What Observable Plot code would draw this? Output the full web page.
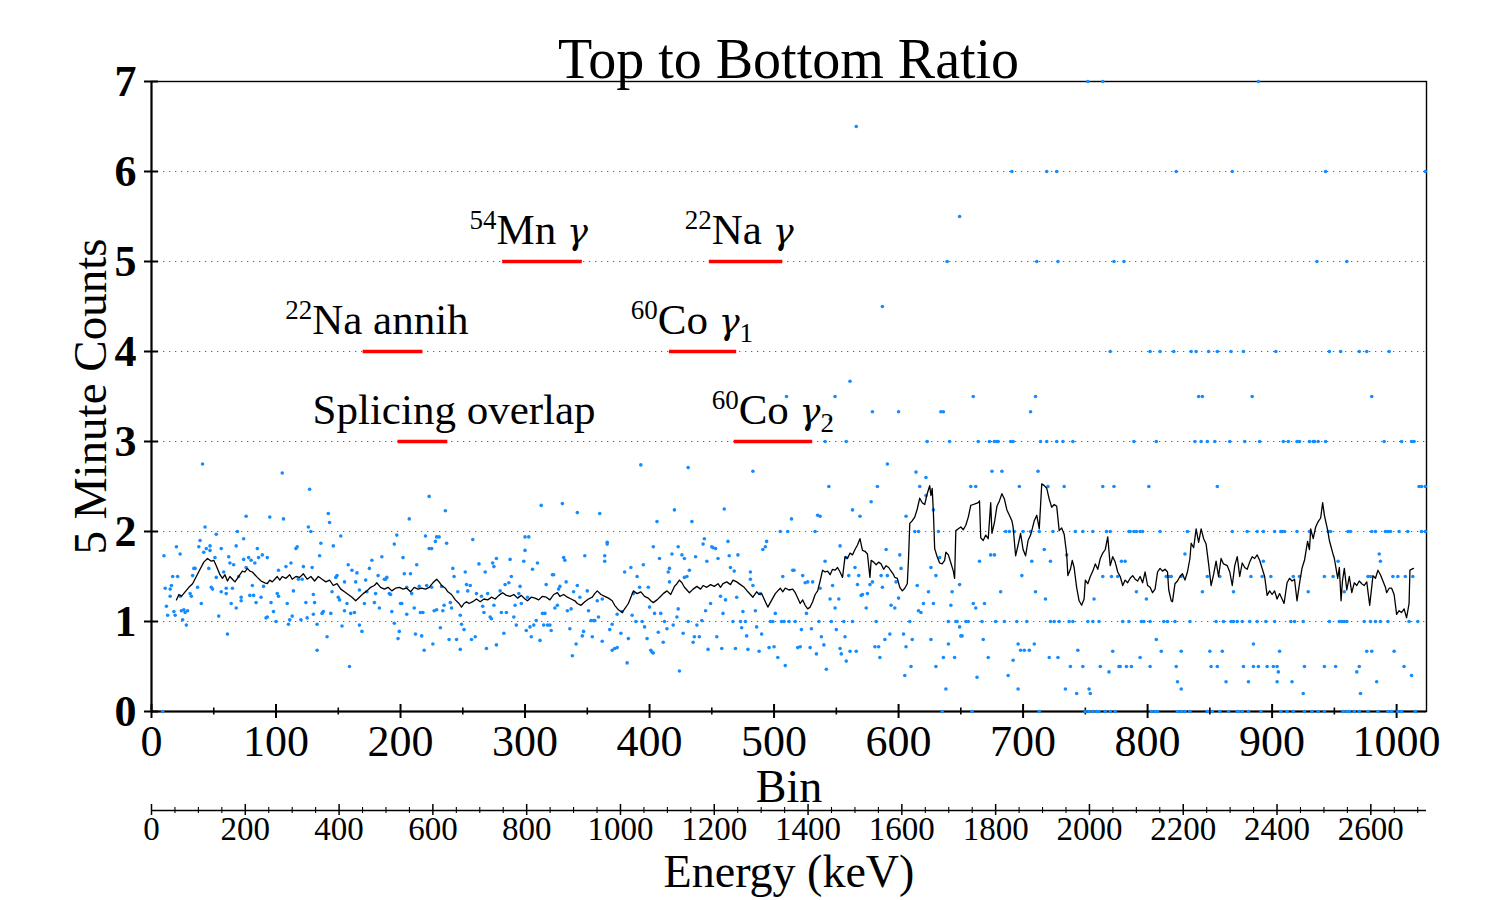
<!DOCTYPE html>
<html>
<head>
<meta charset="utf-8">
<script src="https://cdn.jsdelivr.net/npm/d3@7"></script>
<script src="https://cdn.jsdelivr.net/npm/@observablehq/plot@0.6"></script>
<style>
  html, body { margin: 0; padding: 0; background: #fff; }
  #wrap { position: relative; width: 1500px; height: 900px; overflow: hidden; font-family: "Liberation Serif", serif; color: #000; background: #fff; }
  #title { position: absolute; z-index: 5; left: 151px; width: 1275px; top: 31px; text-align: center; font-size: 56px; line-height: 56px; pointer-events: none; }
  #main { position: absolute; z-index: 1; left: 0; top: 75px; }
  #energy { position: absolute; z-index: 1; left: 0; top: 800px; }
  svg { overflow: visible; }
</style>
</head>
<body>
<div id="wrap">
  <div id="title">Top to Bottom Ratio</div>
  <div id="main"></div>
  <div id="energy"></div>
</div>
<script>
// ---------- axis / tick values ----------
const binMajor = [0, 100, 200, 300, 400, 500, 600, 700, 800, 900, 1000];
const binMinor = [50, 150, 250, 350, 450, 550, 650, 750, 850, 950];
const yTicks = [0, 1, 2, 3, 4, 5, 6, 7];
const gridY = [1, 2, 3, 4, 5, 6];
const energyMajor = [0, 200, 400, 600, 800, 1000, 1200, 1400, 1600, 1800, 2000, 2200, 2400, 2600];
const keVPerBin = 2.655;   // energy calibration of the secondary axis
const binMax = 1024;

// ---------- peak annotations ----------
const peakSup   = ["54", "22", "22", "60", "", "60"];
const peakName  = ["Mn ", "Na ", "Na annih", "Co ", "Splicing overlap", "Co "];
const peakGreek = ["γ", "γ", "", "γ", "", "γ"];
const peakSub   = ["", "", "", "1", "", "2"];
const peakLevel = [5, 5, 4, 4, 3, 3];
const peakFrom  = [282, 448, 170, 416, 198, 468];
const peakTo    = [346, 507, 218, 470, 238, 531];
const peakLabelBin = [303, 472, 181, 434, 243, 499];

// ---------- scatter: ratio per bin ----------
const ptsA = [[9,0],[10,1.73],[11,1.37],[12,1.17],[13,1.07],[15,1.28],[15,1.36],[16,1.40],[17,1.50],[18,1.11],[19,1.07],[20,1.83],[21,1.50],[23,1.75],[23,1.28],[24,1.12],[25,1.02],[26,1.13],[27,1.10],[28,0.96],[29,1.12],[31,1.31],[32,1.28],[33,1.51],[34,1.59],[35,1.59],[37,1.38],[38,1.83],[39,1.90],[40,1.20],[41,2.75],[42,1.77],[43,2.05],[44,1.81],[46,1.59],[47,1.79],[47,1.84],[48,1.38],[49,1.36],[51,1.71],[52,1.97],[52,1.49],[54,1.06],[56,1.81],[56,1.33],[58,1.55],[60,1.37],[60,1.31],[61,0.86],[62,1.72],[63,1.65],[64,1.20],[65,1.37],[66,1.63],[68,1.15],[68,1.84],[69,2.00],[70,1.50],[72,1.23],[72,1.27],[74,1.69],[74,1.92],[76,2.17],[76,1.60],[78,1.71],[79,1.29],[80,1.68],[81,1.40],[82,1.29],[83,1.65],[84,1.21],[85,1.81],[86,1.71],[88,1.27],[89,1.74],[90,1.39],[92,1.04],[93,1.05],[93,1.71],[95,2.16],[96,1.21],[98,1.11],[100,1.00],[101,1.31],[102,1.57],[102,1.28],[105,2.65],[106,2.14],[108,1.61],[109,1.20],[110,0.97],[111,1.02],[112,1.65],[113,1.06],[114,1.34],[116,1.81],[117,1.83],[118,1.47],[120,1.02],[121,1.47],[122,1.61],[124,1.21],[125,1.04],[126,2.05],[127,2.47],[128,2.00],[129,1.60],[130,1.30],[130,1.08],[131,1.21],[133,0.97],[133,0.68],[135,1.73],[136,1.87],[137,1.09],[138,1.11],[141,0.83],[142,2.20],[143,2.10],[144,1.09],[145,1.33],[146,1.84],[148,1.49],[149,1.51],[150,1.27],[151,1.24],[152,1.95],[153,0.95],[155,1.44],[155,1.12],[157,1.20],[158,1.63],[159,0.50],[160,1.09],[161,1.57],[163,1.10],[164,1.44],[165,1.54],[167,0.96],[167,1.35],[169,0.89],[171,1.20],[172,1.46],[173,1.33],[175,1.59],[177,1.68],[179,1.21],[180,1.31],[182,1.51],[183,1.15],[185,1.72],[187,1.47],[188,1.47],[189,1.49],[191,1.31],[192,1.30],[193,1.11],[195,0.98],[195,1.86],[197,1.96],[198,0.81],[199,0.89],[200,1.20],[201,1.20],[202,1.71],[203,1.53],[205,1.38],[205,1.08],[207,2.14],[208,1.53],[209,1.31],[211,1.15],[212,0.86],[213,1.63],[215,1.39],[216,1.10],[217,0.84],[218,1.10],[219,0.68],[220,1.95],[221,1.40],[223,2.39],[223,1.81],[225,1.38],[225,1.81],[226,0.75],[227,1.12],[228,1.89],[229,1.13],[229,1.94],[231,1.94],[232,0.93],[233,1.39],[234,1.12],[235,1.18],[236,2.23],[237,1.87],[239,0.80],[240,1.21],[241,1.15],[242,1.59],[243,1.50],[245,0.80],[246,1.33],[248,0.69],[248,1.07],[249,0.97],[251,0.91],[252,1.55],[253,1.41],[254,1.34],[256,1.40],[257,0.80],[258,1.91],[260,0.83],[261,1.31],[263,1.64]];

const ptsB = [[265,1.28],[266,1.17],[267,1.10],[268,1.55],[269,0.70],[270,1.31],[272,1.05],[273,1.03],[274,1.65],[275,1.61],[275,1.18],[277,0.74],[277,1.70],[280,1.34],[281,1.10],[283,0.87],[284,1.41],[285,1.10],[287,1.43],[288,1.69],[289,1.50],[291,1.05],[292,1.18],[293,0.96],[295,1.31],[296,1.39],[297,1.20],[299,1.67],[300,1.79],[300,1.94],[301,0.90],[302,1.27],[303,1.94],[304,0.94],[305,0.83],[306,1.58],[307,0.96],[309,1.01],[310,1.65],[312,0.79],[313,2.29],[314,1.09],[315,0.96],[316,1.09],[317,1.41],[318,0.96],[320,0.96],[321,0.90],[322,1.52],[323,1.52],[324,1.15],[326,1.18],[327,1.36],[328,1.39],[330,2.31],[331,1.71],[332,1.68],[333,1.44],[334,1.12],[336,0.92],[337,1.14],[338,0.62],[339,1.33],[341,0.75],[342,2.21],[342,1.40],[344,1.27],[346,0.84],[347,0.89],[348,1.73],[350,1.34],[351,1.12],[353,1.01],[354,0.83],[355,1.01],[356,1.01],[358,1.23],[359,1.05],[360,2.20],[362,1.25],[362,0.78],[364,1.73],[364,1.67],[366,1.88],[366,1.86],[368,0.91],[370,0.68],[370,0.97],[372,0.70],[374,0.71],[374,1.08],[377,0.87],[378,1.11],[380,1.55],[382,0.54],[383,0.81],[385,1.60],[386,1.07],[387,1.31],[389,1.00],[390,1.50],[392,1.38],[393,2.74],[394,1.00],[395,1.63],[396,0.94],[398,0.81],[399,1.38],[400,1.16],[401,0.68],[402,0.66],[403,1.83],[403,0.65],[404,1.09],[406,2.11],[407,0.88],[408,1.70],[409,1.09],[411,0.77],[412,1.00],[414,0.92],[415,1.55],[416,1.59],[416,1.44],[418,1.75],[419,0.96],[420,2.24],[422,1.05],[423,1.83],[423,1.14],[424,0.45],[426,1.74],[427,0.87],[428,1.70],[428,1.49],[430,1.50],[431,1.00],[431,2.71],[432,1.57],[434,2.11],[435,0.77],[436,0.83],[437,1.72],[438,0.96],[440,0.83],[442,1.01],[443,1.86],[444,1.92],[445,1.12],[446,1.67],[447,0.69],[449,1.20],[450,1.83],[451,1.82],[453,1.81],[454,0.83],[455,1.70],[457,1.28],[458,0.70],[459,1.09],[460,2.25],[461,1.24],[463,1.89],[464,1.73],[465,1.60],[467,1.00],[468,1.56],[469,0.70],[470,1.27],[471,1.74],[473,1.00],[474,0.93],[475,1.11],[477,1.00],[478,0.84],[479,0.69],[481,1.47],[481,1.55],[483,2.67],[483,1.40],[485,1.12],[486,0.94],[488,0.67],[489,1.31],[490,0.86],[491,1.80],[493,1.83],[494,1.89],[496,0.71],[497,1.00],[499,1.00],[500,0.72],[501,1.09],[503,0.60],[505,2.00],[506,1.00],[507,1.50],[508,1.00],[509,0.51],[511,2.00],[512,1.00],[514,2.14],[515,1.57],[516,1.57],[517,1.00],[519,0.71],[521,0.72],[522,0.91],[523,1.51],[525,1.43],[526,1.09],[527,1.44],[529,0.71],[530,0.92],[531,1.44],[533,2.00],[534,0.64],[535,2.18]];

const ptsMid = [[536,1.00],[537,2.17],[537,1.37],[538,0.83],[540,0.74],[541,1.67],[542,0.47],[544,2.50],[545,1.25],[546,1.00],[547,1.40],[549,1.15],[550,0.91],[552,1.25],[553,1.84],[553,0.70],[554,0.64],[556,1.00],[557,0.83],[558,0.56],[558,1.71],[560,1.51],[561,0.67],[563,2.24],[563,1.00],[565,1.60],[566,0.67],[567,1.41],[568,1.51],[569,2.17],[570,1.29],[571,1.30],[574,1.15],[575,1.31],[577,1.41],[578,2.33],[579,1.44],[581,0.72],[582,1.00],[583,2.50],[584,0.72],[585,0.60],[586,1.51],[587,1.38],[589,0.80],[590,1.80],[591,2.75],[591,1.51],[593,0.86],[594,1.18],[597,1.15],[598,1.44],[600,1.26],[601,1.74],[602,1.59],[604,0.86],[605,0.40],[606,0.72],[606,2.17],[609,1.00],[610,0.50],[611,0.80],[613,2.00],[614,2.66],[615,1.40],[616,2.00],[616,1.12],[617,2.50],[618,1.10],[620,1.20],[622,2.60],[622,2.40],[623,3.00],[624,1.33],[626,1.60],[626,0.80],[628,1.20],[628,2.24],[630,0.50],[630,1.51],[632,2.00],[633,1.71],[635,0],[636,0.60],[638,0.25],[640,0.75],[640,1.00],[641,3.00],[642,1.18],[643,1.33],[645,0.60],[646,1.00],[647,1.00],[649,0.94],[649,1.41],[650,0.84],[651,0.84],[654,1.00],[656,1.00],[658,2.50],[659,0],[660,1.20],[662,2.50],[662,1.15],[663,0.38],[664,3.00],[665,1.67],[667,1.00],[668,0.80],[669,1.20],[672,0.60],[673,3.00],[674,1.74],[675,2.67],[677,1.74],[677,3.00],[678,1.00],[679,3.00],[680,3.00],[682,1.33],[683,2.67],[685,1.00],[686,2.00],[688,0.40],[689,2.00],[690,3.00],[692,3.00],[692,0.57],[693,2.00],[695,1.00],[696,0.25],[696,0.75],[697,2.50],[698,0.68],[699,1.51],[700,2.00],[701,0.68],[703,1.00],[705,0.68],[706,2.00],[707,1.67],[709,0.75],[710,1.33],[712,2.67],[713,2.00],[713,0],[714,3.00],[717,1.80],[718,1.25],[719,3.00],[720,2.50],[721,0.60],[722,1.00],[722,1.67],[724,2.00],[725,1.00],[727,3.00],[728,0.60],[729,1.00],[732,3.00],[733,2.50],[734,0.25],[735,1.74],[737,1.00],[738,0.50],[740,3.00],[740,1.00],[742,2.00],[743,0.20],[744,0.68],[748,0.50],[748,2.00],[750,0],[752,1.00],[753,0.25],[753,0],[754,0.20],[756,1.00],[756,2.00],[756,0],[757,1.25],[759,0],[761,1.00],[761,0],[762,0.50],[764,1.50],[764,2.50],[766,0],[767,2.00],[769,0.44],[770,2.00],[770,0],[771,1.50],[772,0.67],[773,2.50],[774,0],[776,1.50],[777,0.50]];

const outliers = [[510,3.5],[541,3],[558,3],[545,3.25],[549,3.5],[561,3.67],[566,6.5],[587,4.5],[579,3.33],[600,3.33],[634,3.33],[636,3.33],[706,3.33],[649,5.5],[639,5],[711,5],[728,5],[773,5],[781,5],[936,5],[960,5],[691,6],[719,6],[727,6],[823,6],[868,6],[943,6],[1023,6],[660,3.5],[710,3.5],[841,3.5],[844,3.5],[884,3.5],[980,3.5],[770,4],[802,4],[810,4],[821,4],[835,4],[839,4],[849,4],[856,4],[867,4],[877,4],[903,4],[946,4],[955,4],[970,4],[976,4],[994,4],[752,7],[764,7],[889,7]];

// high-bin region: ratios fall on discrete levels
const hiLevels = [3, 2.5, 2, 1.75, 1.67, 1.5, 1.33, 1.25, 1, 0.8, 0.75, 0.67, 0.6, 0.5, 0.44, 0.4, 0.33, 0.25, 0.2, 0];
const hiBins = [
  [789,807,838,843,848,854,866,878,890,909,913,920,922,930,933,934,937,943,990,1004,1012,1014],
  [801,856,1018,1020,1023],
  [785,786,789,791,794,796,810,832,868,880,888,893,902,907,908,910,920,930,945,947,961,963,980,983,991,993,995,1002,1009,1020,1023],
  [830,986],
  [779,782,893,953,987],
  [815,817,819,827,848,858,883,892,899,917,922,942,949,977,979,997,1001,1007,1013],
  [791,844,869,929,958],
  [799],
  [780,785,795,797,802,813,816,822,834,855,861,867,869,872,876,882,888,895,902,915,918,925,946,954,956,958,960,974,979,983,987,993,1010,1017],
  [807],
  [885],
  [811,827,850,860,906,976,980,998],
  [794],
  [778,783,787,802,823,851,856,877,885,889,896,901,904,926,942,951,970,1006],
  [905,968],
  [1012],
  [824,863,881,904,916,984],
  [827],
  [925,971],
  [803,806,808,824,827,830,834,848,852,858,865,872,873,876,881,891,907,912,917,926,932,937,942,957,960,962,966,970,977,985,993,996,1001,1004,1015]
];

// ---------- running average (black line) ----------
const runningAvg = [[20,1.24],[22,1.30],[24,1.28],[27,1.33],[30,1.38],[33,1.42],[36,1.50],[39,1.58],[42,1.66],[45,1.70],[48,1.67],[50,1.68],[52,1.62],[55,1.52],[57,1.48],[59,1.52],[61,1.45],[63,1.50],[65,1.47],[67,1.44],[69,1.48],[71,1.52],[73,1.56],[75,1.55],[77,1.59],[79,1.56],[81,1.55],[83,1.52],[85,1.49],[88,1.45],[91,1.43],[93,1.42],[95,1.46],[97,1.44],[99,1.47],[101,1.50],[103,1.46],[105,1.50],[108,1.48],[111,1.52],[113,1.47],[116,1.50],[119,1.49],[122,1.53],[125,1.47],[128,1.50],[131,1.45],[134,1.50],[137,1.47],[140,1.44],[143,1.46],[146,1.40],[149,1.42],[152,1.36],[155,1.33],[158,1.30],[161,1.27],[164,1.23],[167,1.27],[170,1.31],[173,1.34],[176,1.38],[179,1.40],[181,1.43],[184,1.38],[187,1.36],[190,1.38],[193,1.34],[196,1.37],[199,1.38],[202,1.36],[205,1.37],[208,1.33],[211,1.38],[214,1.36],[217,1.37],[220,1.36],[223,1.38],[226,1.43],[229,1.47],[231,1.44],[233,1.40],[236,1.37],[238,1.33],[241,1.30],[244,1.24],[247,1.20],[249,1.16],[251,1.20],[253,1.22],[255,1.20],[258,1.22],[261,1.25],[264,1.22],[267,1.25],[270,1.24],[273,1.27],[276,1.25],[279,1.29],[282,1.32],[285,1.29],[288,1.28],[291,1.30],[294,1.26],[297,1.29],[300,1.25],[302,1.23],[305,1.27],[308,1.26],[311,1.24],[314,1.28],[317,1.27],[320,1.24],[323,1.30],[326,1.32],[328,1.28],[331,1.30],[334,1.27],[337,1.25],[340,1.23],[342,1.20],[345,1.18],[348,1.22],[351,1.25],[354,1.27],[356,1.31],[358,1.34],[361,1.30],[364,1.28],[367,1.26],[370,1.23],[372,1.18],[375,1.13],[378,1.10],[380,1.14],[383,1.20],[385,1.27],[387,1.34],[390,1.31],[393,1.33],[396,1.28],[399,1.26],[401,1.23],[403,1.21],[406,1.24],[409,1.28],[411,1.31],[414,1.34],[417,1.30],[420,1.39],[422,1.42],[424,1.46],[426,1.43],[428,1.38],[430,1.35],[432,1.32],[435,1.36],[438,1.39],[441,1.36],[443,1.40],[446,1.38],[449,1.41],[452,1.39],[455,1.42],[457,1.38],[459,1.42],[462,1.44],[465,1.41],[467,1.46],[470,1.44],[473,1.41],[476,1.38],[479,1.33],[481,1.30],[483,1.27],[486,1.33],[488,1.30],[490,1.31],[493,1.22],[495,1.16],[497,1.21],[499,1.26],[501,1.31],[503,1.34],[505,1.37],[507,1.33],[509,1.37],[512,1.35],[515,1.36],[517,1.32],[519,1.26],[521,1.20],[523,1.24],[525,1.18],[527,1.14],[529,1.16],[531,1.22],[533,1.30],[535,1.34],[537,1.45],[539,1.57],[541,1.55],[543,1.56],[545,1.52],[547,1.58],[549,1.57],[551,1.60],[553,1.55],[555,1.49],[557,1.72],[559,1.70],[561,1.76],[563,1.74],[565,1.80],[567,1.85],[569,1.92],[571,1.79],[573,1.78],[575,1.75],[577,1.49],[578,1.68],[580,1.66],[582,1.63],[584,1.66],[586,1.64],[588,1.58],[590,1.62],[592,1.60],[594,1.56],[596,1.52],[597,1.49],[599,1.48],[601,1.38],[603,1.34],[605,1.37],[607,1.42],[608,1.70],[609,2.09],[611,2.12],[613,2.16],[615,2.25],[617,2.37],[619,2.32],[621,2.30],[623,2.42],[625,2.51],[626,2.40],[627,2.48],[628,2.20],[629,1.81],[631,1.72],[633,1.65],[635,1.64],[637,1.68],[638,1.77],[640,1.74],[642,1.65],[644,1.56],[645,1.48],[646,2.01],[648,2.03],[650,2.05],[652,2.02],[654,2.07],[656,2.16],[658,2.29],[660,2.30],[662,2.31],[664,2.32],[665,2.34],[666,1.93],[668,1.90],[670,1.96],[672,1.92],[674,2.32],[675,1.98],[677,2.10],[679,2.28],[681,2.34],[683,2.42],[685,2.36],[687,2.24],[689,2.18],[691,2.12],[692,2.05],[694,1.73],[696,1.85],[698,1.98],[700,1.80],[702,1.73],[704,1.90],[706,1.96],[707,2.01],[709,2.12],[711,2.18],[713,2.03],[715,2.53],[717,2.51],[719,2.48],[721,2.36],[723,2.27],[725,2.30],[727,2.28],[729,2.01],[731,2.04],[733,1.97],[735,1.75],[736,1.51],[738,1.58],[739.5,1.68],[741,1.60],[743,1.38],[745,1.23],[747,1.18],[749,1.25],[750,1.46],[752,1.42],[754,1.50],[756,1.56],[758,1.64],[760,1.58],[762,1.70],[764,1.76],[766,1.80],[768,1.94],[770,1.62],[772,1.72],[774,1.66],[776,1.55],[778,1.50],[780,1.40],[782,1.46],[784,1.43],[786,1.48],[788,1.51],[790,1.47],[792,1.45],[794,1.50],[796,1.43],[798,1.55],[800,1.40],[802,1.38],[804,1.32],[806,1.36],[808,1.55],[810,1.59],[812,1.56],[814,1.58],[816,1.55],[817,1.35],[819,1.23],[820,1.22],[822,1.42],[824,1.45],[826,1.50],[828,1.53],[830,1.46],[832,1.55],[834,1.70],[835,1.87],[837,1.82],[839,2.03],[841,1.88],[843,2.03],[845,1.92],[847,1.86],[849,1.64],[851,1.40],[853,1.52],[855,1.67],[857,1.50],[859,1.70],[861,1.64],[864,1.62],[866,1.55],[868,1.40],[870,1.62],[872,1.72],[874,1.50],[876,1.65],[878,1.60],[880,1.58],[882,1.66],[884,1.72],[886,1.70],[888,1.74],[890,1.68],[892,1.59],[894,1.50],[896,1.29],[898,1.34],[900,1.30],[902,1.34],[904,1.25],[906,1.31],[908,1.25],[909.6,1.20],[912,1.43],[914,1.48],[916,1.45],[918,1.47],[920,1.23],[922,1.42],[924,1.59],[926,1.68],[928.5,1.89],[930,1.80],[931,2.03],[933,1.92],[935,2.05],[937,2.11],[939,2.15],[940.6,2.32],[942,2.18],[944.7,2.01],[946,1.90],[948.7,1.76],[950,1.70],[952.7,1.48],[954,1.60],[955.4,1.23],[956.5,1.45],[958,1.59],[960,1.35],[962,1.50],[964,1.32],[966,1.43],[968,1.40],[970,1.45],[972,1.42],[974,1.40],[976,1.44],[978.4,1.18],[981,1.51],[983,1.48],[985,1.57],[987,1.52],[989,1.45],[991,1.38],[992,1.32],[994,1.37],[996,1.37],[998,1.30],[1000,1.08],[1002,1.12],[1004,1.10],[1006,1.14],[1008,1.04],[1010,1.20],[1010.7,1.57],[1013.5,1.59]];

// ---------- build tables ----------
const scatter = [...ptsA, ...ptsB, ...ptsMid, ...outliers,
  ...hiLevels.flatMap((v, i) => hiBins[i].map(b => [b, v]))]
  .map(([bin, ratio]) => ({bin, ratio}));
const avg = runningAvg.map(([bin, ratio]) => ({bin, ratio}));
const peaks = peakName.map((n, i) => ({
  plain: peakSup[i] + n + peakGreek[i] + peakSub[i],
  level: peakLevel[i], from: peakFrom[i], to: peakTo[i], at: peakLabelBin[i]
}));

const FONT = "'Liberation Serif', 'Times New Roman', serif";
const W = 1500, ML = 151, MR = 74;

const main = Plot.plot({
  width: W, height: 725,
  marginTop: 6, marginBottom: 89, marginLeft: ML, marginRight: MR,
  style: {fontFamily: FONT, background: "transparent", overflow: "visible", color: "#000"},
  x: {domain: [0, binMax]},
  y: {domain: [0, 7]},
  marks: [
    Plot.ruleY(gridY, {stroke: "#666", strokeWidth: 1, strokeDasharray: "1.3,4.7"}),
    Plot.frame({stroke: "#000", strokeWidth: 1.4}),
    Plot.ruleY([0], {stroke: "#000", strokeWidth: 2}),
    Plot.ruleX([0], {stroke: "#000", strokeWidth: 2}),
    Plot.ruleX(binMajor, {x: d => d, y1: 0, y2: 0, insetTop: -7, insetBottom: -7, stroke: "#000", strokeWidth: 2}),
    Plot.ruleX(binMinor, {x: d => d, y1: 0, y2: 0, insetTop: -3.5, insetBottom: -3.5, stroke: "#000", strokeWidth: 1.6}),
    Plot.ruleY(yTicks, {y: d => d, x1: 0, x2: 0, insetLeft: -7, insetRight: -7, stroke: "#000", strokeWidth: 2}),
    Plot.axisX({ticks: binMajor, tickSize: 0, tickPadding: 13, fontSize: 44, label: null, tickFormat: d => String(d)}),
    Plot.axisY({ticks: yTicks, tickSize: 0, tickPadding: 15, fontSize: 44, fontWeight: "bold", label: null, tickFormat: d => String(d)}),
    Plot.text(["Bin"], {frameAnchor: "bottom", dy: 90, fontSize: 46}),
    Plot.text(["5 Minute Counts"], {frameAnchor: "left", textAnchor: "middle", dx: -61, rotate: -90, fontSize: 47}),
    Plot.ruleY(peaks, {y: "level", x1: "from", x2: "to", stroke: "#ff0000", strokeWidth: 3.5}),
    Plot.dot(scatter, {x: "bin", y: "ratio", r: 1.8, fill: "#148cff", stroke: "none"}),
    Plot.line(avg, {x: "bin", y: "ratio", stroke: "#000", strokeWidth: 1.3}),
    Plot.text(peaks, {x: "at", y: "level", text: "plain", lineAnchor: "bottom", dy: -18, fontSize: 43, fill: "#000"})
  ]
});

// rich text for the isotope labels: superscript mass number, italic gamma, subscript index
d3.select(main).selectAll("text").each(function () {
  const i = peaks.findIndex(p => p.plain === this.textContent);
  if (i < 0) return;
  const el = d3.select(this);
  el.text(null);
  let back = 0;
  if (peakSup[i]) { el.append("tspan").attr("font-size", 27).attr("dy", -15).text(peakSup[i]); back = 15; }
  el.append("tspan").attr("dy", back).text(peakName[i]);
  if (peakGreek[i]) el.append("tspan").attr("font-style", "italic").attr("font-family", "'DejaVu Serif', serif").attr("font-size", 35).text(peakGreek[i]);
  if (peakSub[i]) el.append("tspan").attr("font-size", 27).attr("dy", 8).text(peakSub[i]);
});
document.getElementById("main").appendChild(main);

// ---------- secondary energy axis ----------
const eMax = binMax * keVPerBin;
const energyMinor = d3.range(50, eMax, 50).filter(v => v % 200 !== 0);
const energy = Plot.plot({
  width: W, height: 100,
  marginTop: 0, marginBottom: 90, marginLeft: ML, marginRight: MR,
  style: {fontFamily: FONT, background: "transparent", overflow: "visible", color: "#000"},
  x: {domain: [0, eMax]},
  y: {domain: [0, 1], axis: null},
  marks: [
    Plot.ruleY([0], {stroke: "#000", strokeWidth: 1.6}),
    Plot.ruleX(energyMajor, {x: d => d, y1: 0, y2: 0, insetTop: -6, insetBottom: -5, stroke: "#000", strokeWidth: 1.5}),
    Plot.ruleX(energyMinor, {x: d => d, y1: 0, y2: 0, insetTop: -3, insetBottom: -3, stroke: "#000", strokeWidth: 1.1}),
    Plot.axisX({ticks: energyMajor, tickSize: 0, tickPadding: 6, fontSize: 33, label: null, tickFormat: d => String(d)}),
    Plot.text(["Energy (keV)"], {frameAnchor: "bottom", dy: 76, fontSize: 46})
  ]
});
document.getElementById("energy").appendChild(energy);
</script>
</body>
</html>
